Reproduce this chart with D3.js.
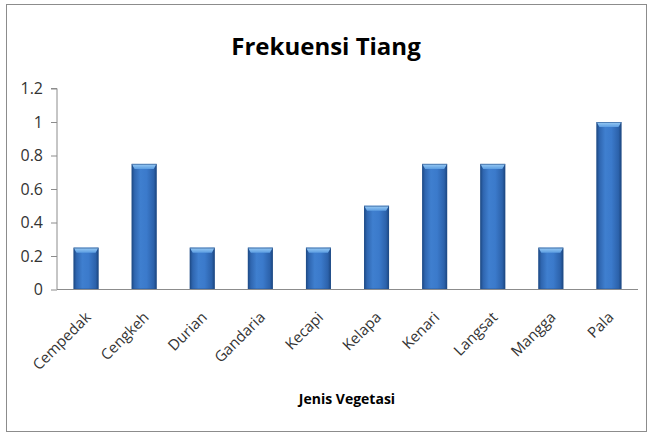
<!DOCTYPE html>
<html><head><meta charset="utf-8">
<script src="https://cdn.jsdelivr.net/npm/d3@7"></script>
<style>html,body{margin:0;padding:0;background:#fff}svg{display:block}</style>
</head><body>
<svg id="c" width="648" height="433"></svg>
<script>
const categories = ["Cempedak","Cengkeh","Durian","Gandaria","Kecapi","Kelapa","Kenari","Langsat","Mangga","Pala"];
const values = [0.25,0.75,0.25,0.25,0.25,0.5,0.75,0.75,0.25,1];
const yTicks = [0,0.2,0.4,0.6,0.8,1,1.2];
const yTickLabels = ["0","0.2","0.4","0.6","0.8","1","1.2"];
const title = "Frekuensi Tiang";
const xTitle = "Jenis Vegetasi";

const svg = d3.select("#c");
const font = "'Open Sans', 'Noto Sans', sans-serif";
svg.append("rect").attr("x",6.5).attr("y",4.5).attr("width",640).attr("height",427)
  .attr("fill","#fff").attr("stroke","#8c8c8c").attr("stroke-width",1);

const m = {l:57, r:638, t:88.5, b:289.5};
const x = d3.scaleBand().domain(categories).range([m.l,m.r]).paddingInner(0.57).paddingOuter(0.285);
const y = d3.scaleLinear().domain([0,1.2]).range([m.b,m.t]);

const defs = svg.append("defs");
const g1 = defs.append("linearGradient").attr("id","bg").attr("x1","0").attr("x2","1").attr("y1","0").attr("y2","0");
[["0%","#1d4a85"],["12%","#2f66b0"],["35%","#3f7fcf"],["60%","#3b7acb"],["88%","#2c62ab"],["100%","#1b457e"]]
  .forEach(s=>g1.append("stop").attr("offset",s[0]).attr("stop-color",s[1]));
const g2 = defs.append("linearGradient").attr("id","tg").attr("x1","0").attr("x2","0").attr("y1","0").attr("y2","1");
[["0%","#9ccdf5"],["100%","#5d9ee2"]].forEach(s=>g2.append("stop").attr("offset",s[0]).attr("stop-color",s[1]));

// y axis
const ya = svg.append("g").attr("transform",`translate(${m.l},0)`)
  .call(d3.axisLeft(y).tickValues(yTicks).tickFormat((d,i)=>yTickLabels[i]).tickSize(6).tickPadding(8));
ya.select(".domain").attr("stroke","#8c8c8c").attr("d",`M-6,${m.t}H0V${m.b}`);
ya.selectAll(".tick line").attr("stroke","#8c8c8c");
ya.selectAll(".tick text").attr("fill","#333").style("font-family",font).style("font-size","16px");

// bars
const bars = svg.append("g");
categories.forEach((c,i)=>{
  const bx = x(c), bw = x.bandwidth(), by = y(values[i]), bh = y(0)-y(values[i]);
  bars.append("rect").attr("x",bx).attr("y",by).attr("width",bw).attr("height",bh).attr("fill","url(#bg)");
  const tb = 5;
  bars.append("path").attr("d",`M${bx},${by}H${bx+bw}L${bx+bw-3},${by+tb}H${bx+3}Z`).attr("fill","url(#tg)");
  bars.append("rect").attr("x",bx+0.5).attr("y",by+0.5).attr("width",bw-1).attr("height",bh-1)
    .attr("fill","none").attr("stroke","#224f8c").attr("stroke-opacity",0.6);
});

// x axis
const xa = svg.append("g").attr("transform",`translate(0,${m.b})`)
  .call(d3.axisBottom(x).tickSize(0).tickPadding(0));
xa.select(".domain").attr("stroke","#8c8c8c").attr("d",`M${m.l},0H${m.r}`);
xa.selectAll(".tick text").attr("fill","#333").style("font-family",font).style("font-size","15px")
  .attr("text-anchor","end").attr("y",0).attr("dy","0.35em")
  .attr("transform","translate(2,25) rotate(-45)");

svg.append("text").attr("x",326).attr("y",55).attr("text-anchor","middle")
  .style("font-family",font).style("font-weight","bold").style("font-size","24px").attr("fill","#000").text(title);
svg.append("text").attr("x",347).attr("y",404).attr("text-anchor","middle")
  .style("font-family",font).style("font-weight","bold").style("font-size","14px").attr("fill","#000").text(xTitle);
</script>
</body></html>
